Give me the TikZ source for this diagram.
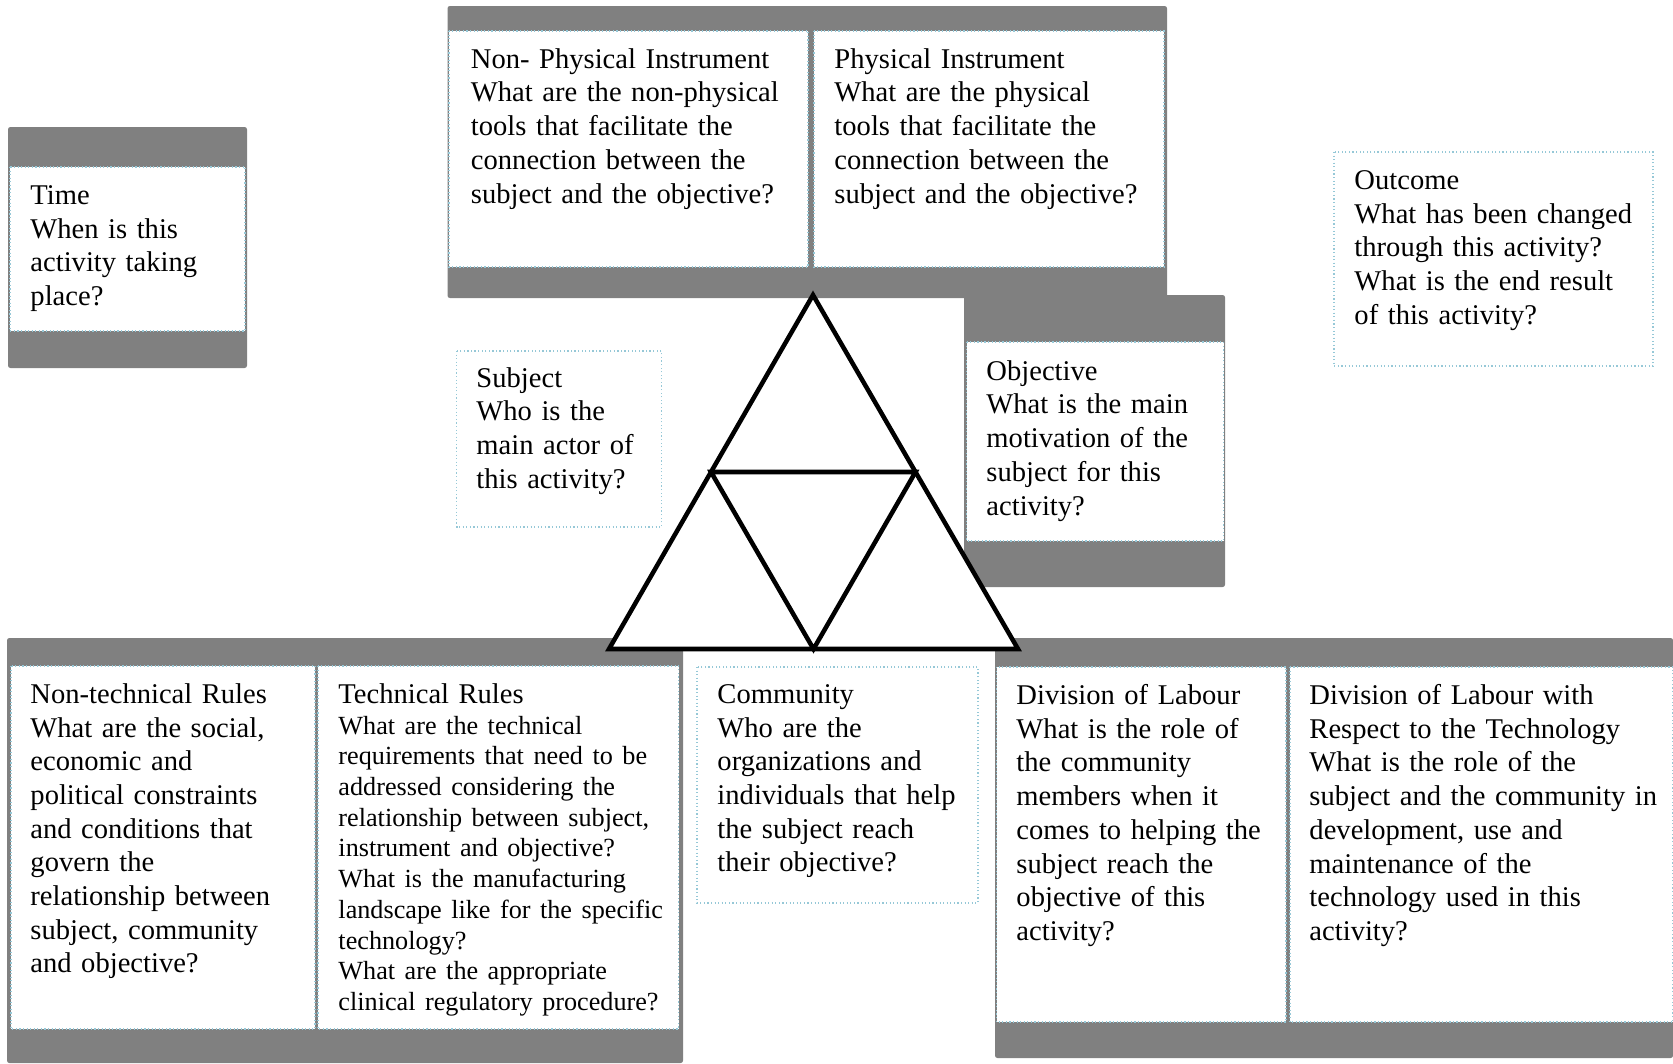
\documentclass[tikz,border=0pt]{standalone}
\usepackage{fontspec}
\setmainfont{Liberation Serif}
\usepackage{tikz}
\usetikzlibrary{calc}
\definecolor{panelgray}{RGB}{128,128,128}
\definecolor{celledge}{RGB}{150,200,215}
\tikzstyle{panel} = [fill=panelgray, rounded corners=1pt]
\tikzstyle{cell} = [fill=white, draw=celledge, densely dotted, line width=0.5pt]
\tikzstyle{tri} = [draw=black, line width=1.9pt, line join=miter]

\begin{document}
\begin{tikzpicture}[x=0.42pt, y=-0.42pt,
qtext/.style={anchor=north west, inner sep=0pt, align=left, text width=#1,
  font=\fontsize{12}{14.15}\selectfont}]
\useasboundingbox (0,0) rectangle (1673,1063);

%Time
\fill[panel] (8,127) rectangle (247,368);
\draw[cell] (10,167) rectangle (245,331);
\node [qtext=90pt] at (30,185) (time){Time\\When is this\\activity taking\\place?};

%Instrument
\fill[panel] (447.5,6) rectangle (1167,298);
\draw[cell] (449,31) rectangle (808,267);
\draw[cell] (814,31) rectangle (1164,267);
\node [qtext=138pt] at (470.5,48) (nonphys){Non- Physical Instrument\\What are the non-physical\\tools that facilitate the\\connection between the\\subject and the objective?};
\node [qtext=134pt] at (834,48) (phys){Physical Instrument\\What are the physical\\tools that facilitate the\\connection between the\\subject and the objective?};

%Outcome
\draw[cell] (1334,152) rectangle (1653,366);
\node [qtext=122pt] at (1354,170) (outcome){Outcome\\What has been changed\\through this activity?\\What is the end result\\of this activity?};

%Subject
\draw[cell] (456.5,351) rectangle (661.5,527);
\node [qtext=76pt] at (476,367) (subject){Subject\\Who is the\\main actor of\\this activity?};

%Objective
\fill[panel] (964,295) rectangle (1225,587);
\draw[cell] (966.5,342) rectangle (1223.5,541);
\node [qtext=96pt] at (986,360) (objective){Objective\\What is the main\\motivation of the\\subject for this\\activity?};

%Rules
\fill[panel] (7,638) rectangle (683,1063);
\draw[cell] (11,666) rectangle (315,1029);
\draw[cell] (318,666) rectangle (678.5,1029);
\node [qtext=115pt] at (30,683) (nontech){Non-technical Rules\\What are the social,\\economic and\\political constraints\\and conditions that\\govern the\\relationship between\\subject, community\\and objective?};
\node [qtext=145pt] at (338,683) (tech){Technical Rules\\\fontsize{11}{12.9}\selectfont What are the technical\\requirements that need to be\\addressed considering the\\relationship between subject,\\instrument and objective?\\What is the manufacturing\\landscape like for the specific\\technology?\\What are the appropriate\\clinical regulatory procedure?\par};

%Community
\draw[cell] (697,667) rectangle (978,903);
\node [qtext=108pt] at (717,684) (community){Community\\Who are the\\organizations and\\individuals that help\\the subject reach\\their objective?};

%Division of labour
\fill[panel] (995,638) rectangle (1673,1058);
\draw[cell] (996.5,667) rectangle (1286,1022);
\draw[cell] (1290,667) rectangle (1673,1022);
\node [qtext=110pt] at (1016,684) (division){Division of Labour\\What is the role of\\the community\\members when it\\comes to helping the\\subject reach the\\objective of this\\activity?};
\node [qtext=148pt] at (1309,684) (divtech){Division of Labour with\\Respect to the Technology\\What is the role of the\\subject and the community in\\development, use and\\maintenance of the\\technology used in this\\activity?};

% Triangle
\coordinate (apex) at (813,295);
\coordinate (bl) at (609,649);
\coordinate (br) at (1018,649);
\coordinate (ml) at ($(apex)!.5!(bl)$);
\coordinate (mr) at ($(apex)!.5!(br)$);
\coordinate (mb) at ($(bl)!.5!(br)$);
\draw[tri, fill=white] (apex) -- (bl) -- (br) -- cycle;
\draw[tri] (ml) -- (mr) -- (mb) -- cycle;
\end{tikzpicture}
\end{document}
